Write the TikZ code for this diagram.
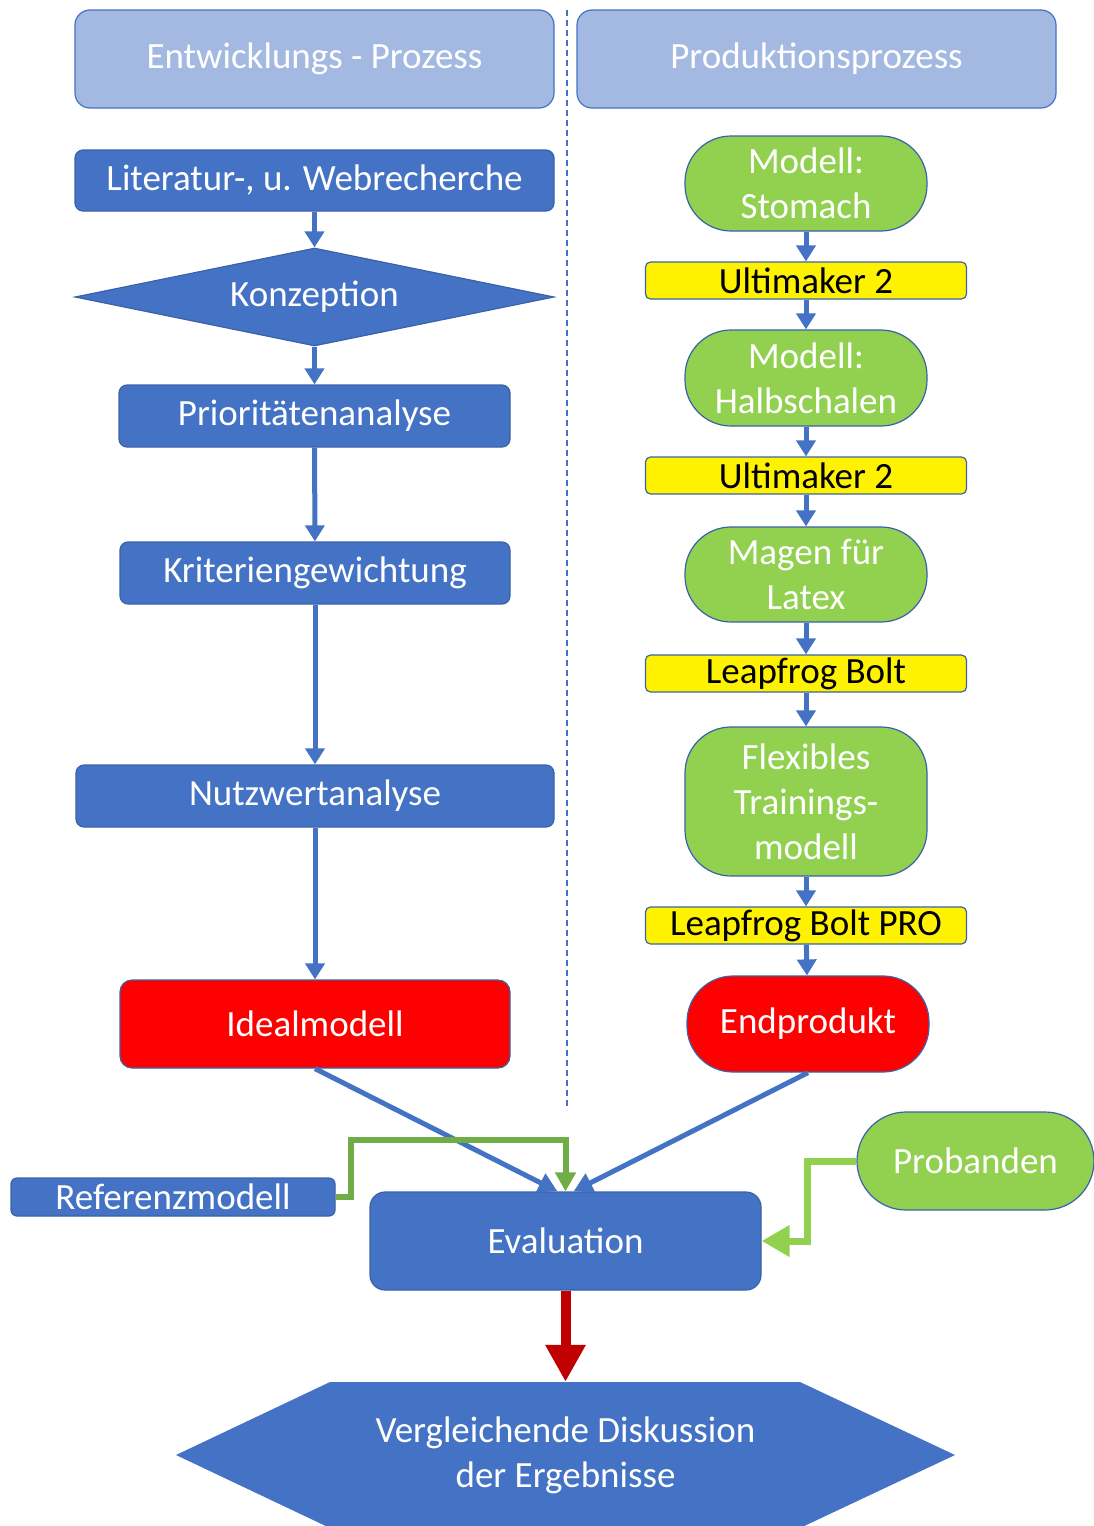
\documentclass[tikz,border=0pt]{standalone}
\usepackage{fontspec}
\setmainfont{Carlito}
\usetikzlibrary{arrows.meta,positioning,shapes.geometric}

\definecolor{boxblue}{HTML}{4472C4}
\definecolor{rimblue}{HTML}{3A62A8}
\definecolor{headblue}{HTML}{A4B9E2}
\definecolor{lgreen}{HTML}{92D050}
\definecolor{dgreen}{HTML}{70AD47}
\definecolor{dred}{HTML}{C00000}

\tikzset{
  box/.style={draw=rimblue, line width=1.2pt, fill=boxblue, text=white, rounded corners=8pt, inner sep=0pt, align=center},
  headbox/.style={box, fill=headblue, draw=boxblue, rounded corners=15pt, minimum width=479pt, minimum height=98pt},
  gbox/.style={box, fill=lgreen, rounded corners=46pt, minimum width=242pt},
  ybox/.style={box, fill=yellow, text=black, rounded corners=5pt, minimum width=321pt, minimum height=37pt},
  rbox/.style={box, fill=red},
  arr/.style={draw=boxblue, line width=5pt, -{Triangle[length=16pt,width=19pt]}},
  garr/.style={line width=6pt, miter limit=4, -{Triangle[length=19pt,width=20pt]}}
}

\begin{document}
\begin{tikzpicture}[x=1pt, y=-1pt, font=\fontsize{37}{45}\selectfont]
\useasboundingbox (0,0) rectangle (1094,1526);

% headers and separator
\node[headbox] (hleft) at (314.5,59) {Entwicklungs - Prozess};
\node[headbox] (hright) at (816.5,59) {Produktionsprozess};
\draw[boxblue, line width=1.5pt, dash pattern=on 6pt off 4pt] (567,10) -- (567,1110);

% Entwicklung
\node[box, minimum width=479pt, minimum height=61pt] (lit) at (314.5,180.5) {Literatur-, u. Webrecherche};
\node[box, shape=diamond, aspect=4.89, rounded corners=0pt, minimum width=479pt, minimum height=98pt] (konz) at (314.5,297) {Konzeption};
\node[box, minimum width=391pt, minimum height=62pt] (prio) at (314.5,416) {Prioritätenanalyse};
\node[box, minimum width=390pt, minimum height=62pt] (krit) at (315,573) {Kriteriengewichtung};
\node[box, minimum width=478pt, minimum height=62pt] (nutz) at (315,796) {Nutzwertanalyse};
\node[rbox, rounded corners=12pt, minimum width=390pt, minimum height=88pt] (ideal) at (315,1024) {Idealmodell};

\draw[arr] (lit) -- (konz);
\draw[arr] (konz) -- (prio);
\draw[arr] (prio) -- (krit);
\draw[arr] (krit) -- (nutz);
\draw[arr] (nutz) -- (ideal);

% Produktion
\node[gbox, minimum height=95pt] (stom) at (806,183.5) {Modell:\\Stomach};
\node[ybox] (ulti1) at (806,280.5) {Ultimaker 2};
\node[gbox, minimum height=96pt] (halb) at (806,378) {Modell:\\Halbschalen};
\node[ybox] (ulti2) at (806,475.5) {Ultimaker 2};
\node[gbox, minimum height=95pt] (magen) at (806,574.5) {Magen für\\Latex};
\node[ybox] (leap1) at (806,673.5) {Leapfrog Bolt};
\node[gbox, minimum height=149pt] (flex) at (806,801.5) {Flexibles\\Trainings-\\modell};
\node[ybox] (leap2) at (806,925.5) {Leapfrog Bolt PRO};
\node[rbox, rounded corners=46pt, minimum width=242pt, minimum height=96pt] (endp) at (808,1024) {Endprodukt};

\draw[arr] (stom) -- (ulti1);
\draw[arr] (ulti1) -- (halb);
\draw[arr] (halb) -- (ulti2);
\draw[arr] (ulti2) -- (magen);
\draw[arr] (magen) -- (leap1);
\draw[arr] (leap1) -- (flex);
\draw[arr] (flex) -- (leap2);
\draw[arr] (leap2) -- (endp);

% Auswertung
\node[box, rounded corners=15pt, minimum width=391pt, minimum height=98pt] (eval) at (565.5,1241) {Evaluation};
\node[box, rounded corners=6pt, minimum width=324pt, minimum height=38pt] (ref) at (173,1197) {Referenzmodell};
\node[gbox, rounded corners=49pt, minimum width=237pt, minimum height=98pt] (prob) at (975.5,1161) {Probanden};
\coordinate (refbend) at (565.5,1140);

\draw[arr, -{Triangle[length=19pt,width=20pt]}] (ideal.south) -- ([xshift=-8pt]eval.north);
\draw[arr, -{Triangle[length=19pt,width=20pt]}] (endp.south) -- ([xshift=8pt]eval.north);
\draw[garr, dgreen] (ref.east) -- ++(15,0) |- (refbend) -- (eval.north);
\draw[garr, lgreen, line width=7pt, -{Triangle[length=28pt,width=30pt]}] (prob.west) -- ++(-49,0) |- (eval.east);

% Diskussion
\fill[boxblue] (176,1455) -- (330,1382) -- (800,1382) -- (955,1455) -- (800,1528) -- (330,1528) -- cycle;
\node[text=white, align=center, minimum height=146pt, inner sep=0pt] (disk) at (565.5,1455) {Vergleichende Diskussion\\der Ergebnisse};
\draw[dred, line width=10pt, -{Triangle[length=37pt,width=38pt]}] (eval.south) -- (disk.north);
\end{tikzpicture}
\end{document}
